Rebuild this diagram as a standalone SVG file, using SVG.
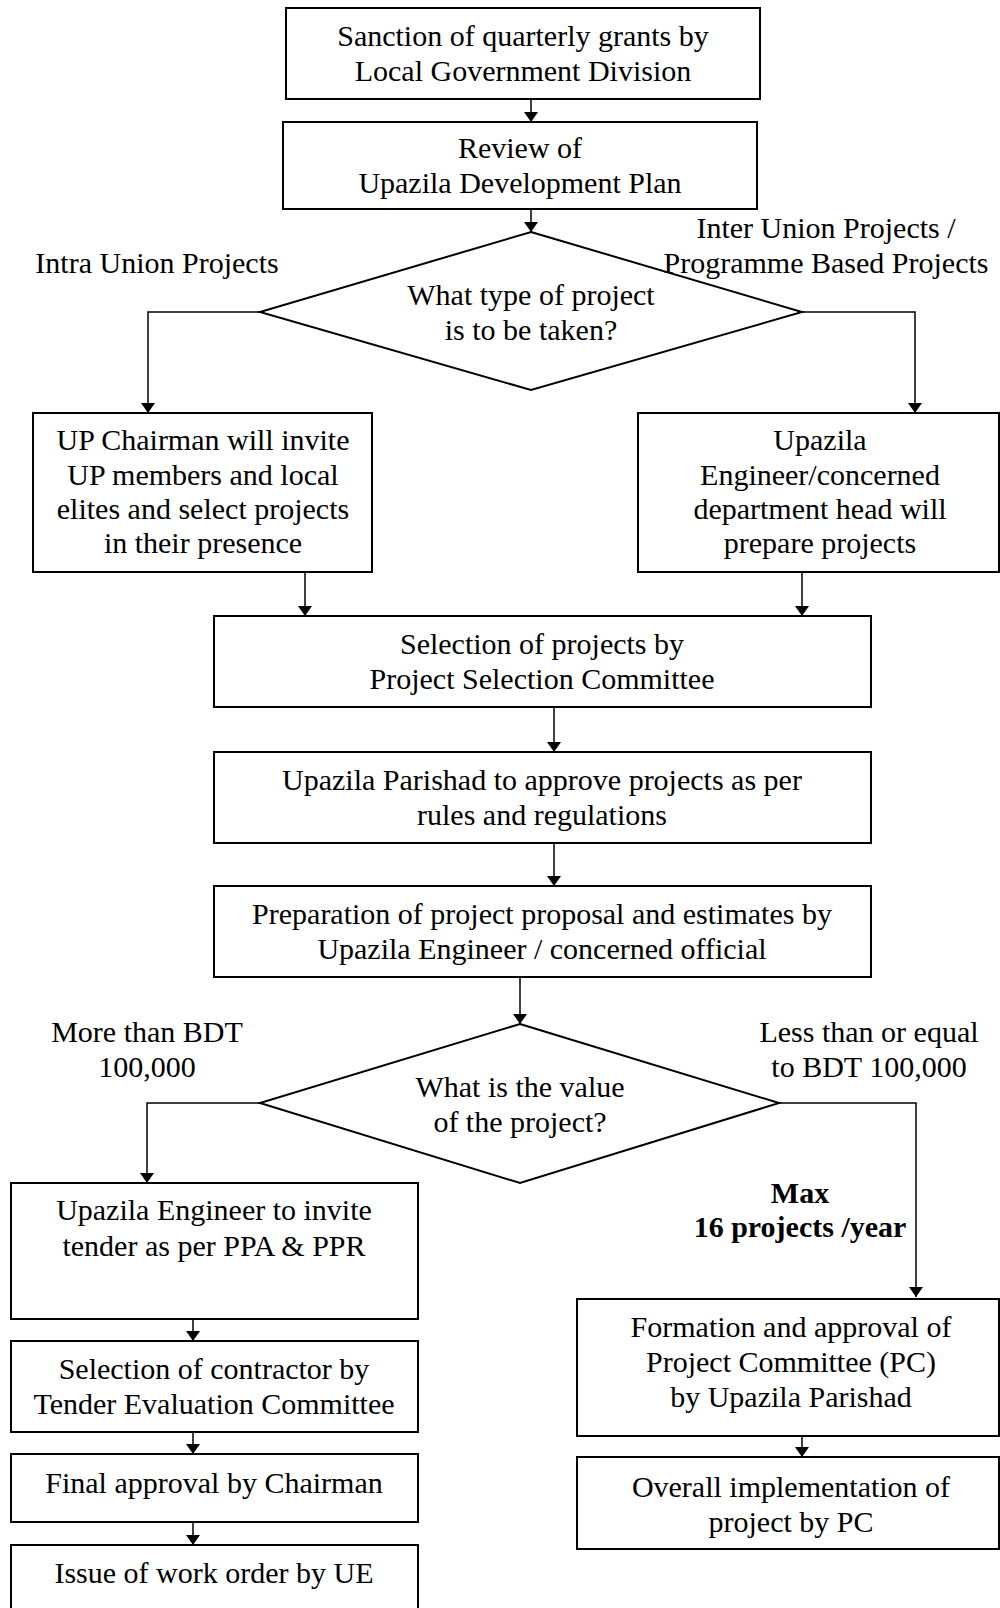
<svg xmlns="http://www.w3.org/2000/svg" width="1000" height="1608" viewBox="0 0 1000 1608">
<defs>
<marker id="ah" markerWidth="10" markerHeight="14" refX="10" refY="5" orient="auto" markerUnits="userSpaceOnUse" viewBox="0 0 10 10" preserveAspectRatio="none">
<path d="M0,0 L10,5 L0,10 Z" fill="#000"/>
</marker>
<style>
.box{fill:#fff;stroke:#000;stroke-width:2}
.t{font-family:"Liberation Serif","Times New Roman",serif;font-size:30px;fill:#000;text-anchor:middle}
.b{font-weight:bold}
.c{fill:none;stroke:#000;stroke-width:1.5;marker-end:url(#ah)}
</style>
</defs>
<rect width="1000" height="1608" fill="#fff"/>
<g id="connectors">
<path class="c" d="M531,99 V122"/>
<path class="c" d="M531,209 V232"/>
<path class="c" d="M260,312 H148 V413"/>
<path class="c" d="M802,312 H915 V413"/>
<path class="c" d="M305,572 V616"/>
<path class="c" d="M802,572 V616"/>
<path class="c" d="M554,707 V752"/>
<path class="c" d="M554,843 V886"/>
<path class="c" d="M520,977 V1024"/>
<path class="c" d="M260,1103 H147 V1183"/>
<path class="c" d="M779,1103 H916 V1297"/>
<path class="c" d="M193,1319 V1341"/>
<path class="c" d="M193,1432 V1454"/>
<path class="c" d="M193,1522 V1545"/>
<path class="c" d="M802,1436 V1457"/>
</g>
<g id="n1"><rect class="box" x="286" y="8" width="474" height="91"/>
<text class="t" x="523" y="46">Sanction of quarterly grants by</text>
<text class="t" x="523" y="81">Local Government Division</text></g>
<g id="n2"><rect class="box" x="283" y="122" width="474" height="87"/>
<text class="t" x="520" y="158">Review of</text>
<text class="t" x="520" y="193">Upazila Development Plan</text></g>
<g id="d1"><polygon class="box" points="531,232 802,312 531,390 260,312"/>
<text class="t" x="531" y="305">What type of project</text>
<text class="t" x="531" y="340">is to be taken?</text></g>
<g id="lbl1"><text class="t" x="157" y="273">Intra Union Projects</text></g>
<g id="lbl2"><text class="t" x="826" y="238">Inter Union Projects /</text>
<text class="t" x="826" y="273">Programme Based Projects</text></g>
<g id="n3"><rect class="box" x="33" y="413" width="339" height="159"/>
<text class="t" x="203" y="450">UP Chairman will invite</text>
<text class="t" x="203" y="485">UP members and local</text>
<text class="t" x="203" y="519">elites and select projects</text>
<text class="t" x="203" y="553">in their presence</text></g>
<g id="n4"><rect class="box" x="638" y="413" width="361" height="159"/>
<text class="t" x="820" y="450">Upazila</text>
<text class="t" x="820" y="485">Engineer/concerned</text>
<text class="t" x="820" y="519">department head will</text>
<text class="t" x="820" y="553">prepare projects</text></g>
<g id="n5"><rect class="box" x="214" y="616" width="657" height="91"/>
<text class="t" x="542" y="654">Selection of projects by</text>
<text class="t" x="542" y="689">Project Selection Committee</text></g>
<g id="n6"><rect class="box" x="214" y="752" width="657" height="91"/>
<text class="t" x="542" y="790">Upazila Parishad to approve projects as per</text>
<text class="t" x="542" y="825">rules and regulations</text></g>
<g id="n7"><rect class="box" x="214" y="886" width="657" height="91"/>
<text class="t" x="542" y="924">Preparation of project proposal and estimates by</text>
<text class="t" x="542" y="959">Upazila Engineer / concerned official</text></g>
<g id="d2"><polygon class="box" points="520,1024 779,1103 520,1183 260,1103"/>
<text class="t" x="520" y="1097">What is the value</text>
<text class="t" x="520" y="1132">of the project?</text></g>
<g id="lbl3"><text class="t" x="147" y="1042">More than BDT</text>
<text class="t" x="147" y="1077">100,000</text></g>
<g id="lbl4"><text class="t" x="869" y="1042">Less than or equal</text>
<text class="t" x="869" y="1077">to BDT 100,000</text></g>
<g id="lbl5"><text class="t b" x="800" y="1203">Max</text>
<text class="t b" x="800" y="1237">16 projects /year</text></g>
<g id="n8"><rect class="box" x="11" y="1183" width="407" height="136"/>
<text class="t" x="214" y="1220">Upazila Engineer to invite</text>
<text class="t" x="214" y="1256">tender as per PPA &amp; PPR</text></g>
<g id="n9"><rect class="box" x="11" y="1341" width="407" height="91"/>
<text class="t" x="214" y="1379">Selection of contractor by</text>
<text class="t" x="214" y="1414">Tender Evaluation Committee</text></g>
<g id="n10"><rect class="box" x="11" y="1454" width="407" height="68"/>
<text class="t" x="214" y="1493">Final approval by Chairman</text></g>
<g id="n11"><rect class="box" x="11" y="1545" width="407" height="70"/>
<text class="t" x="214" y="1583">Issue of work order by UE</text></g>
<g id="n12"><rect class="box" x="577" y="1299" width="422" height="137"/>
<text class="t" x="791" y="1337">Formation and approval of</text>
<text class="t" x="791" y="1372">Project Committee (PC)</text>
<text class="t" x="791" y="1407">by Upazila Parishad</text></g>
<g id="n13"><rect class="box" x="577" y="1457" width="422" height="92"/>
<text class="t" x="791" y="1497">Overall implementation of</text>
<text class="t" x="791" y="1532">project by PC</text></g>
</svg>
